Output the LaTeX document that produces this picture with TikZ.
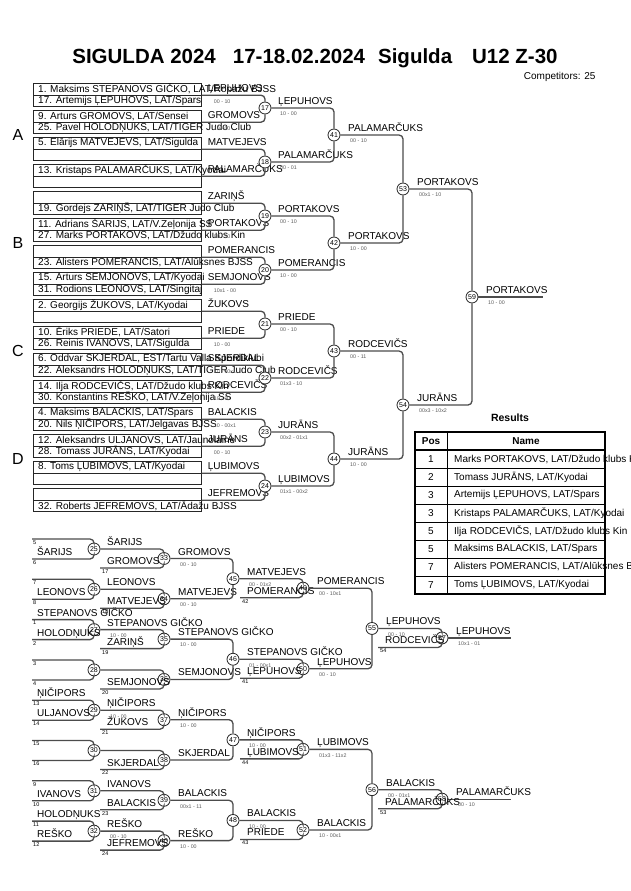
\documentclass[tikz,border=0pt]{standalone}
\usepackage{fontspec}
\setmainfont{Liberation Sans}
\usetikzlibrary{calc}

\tikzset{
  entrybox/.style={draw=black!85, line width=0.7pt, minimum width=168pt, minimum height=11.5pt, inner sep=0pt, anchor=north west},
  entrytext/.style={font=\fontsize{10}{10}\selectfont, anchor=west, inner sep=0pt},
  link/.style={draw=black!70, line width=1.3pt, rounded corners=4pt},
  bout/.style={circle, draw=black!85, fill=white, line width=0.8pt, minimum size=12pt, inner sep=0pt, font=\fontsize{7}{7}\selectfont},
  winner/.style={font=\fontsize{10}{10}\selectfont, anchor=base west, inner sep=0pt},
  result/.style={font=\fontsize{5.3}{6}\selectfont, text=black!65, anchor=west, inner sep=0pt},
  seed/.style={font=\fontsize{5.5}{6}\selectfont, anchor=west, inner sep=0pt},
  pool/.style={font=\fontsize{16}{16}\selectfont},
  tabhead/.style={font=\bfseries\fontsize{10}{10}\selectfont},
  tabcell/.style={font=\fontsize{10}{10}\selectfont},
}

\begin{document}
\begin{tikzpicture}[x=1pt,y=-1pt]
\useasboundingbox (0,0) rectangle (630,891);

% heading
\node[font=\bfseries\fontsize{20.5}{22}\selectfont] (title) at (315,58)
  {SIGULDA 2024\hspace{17pt}17-18.02.2024\hspace{13pt}Sigulda\hspace{20pt}U12 Z-30};
\node[font=\fontsize{10}{10}\selectfont, anchor=east] (ncomp) at (599,77) {Competitors: 25};

% pools
\foreach \g/\l in {0/A,1/B,2/C,3/D}
  \node[pool] (pool\l) at (18,135+108*\g) {\l};

% first round
\foreach \pr/\ta/\tb/\win/\res in {
  0/{1. Maksims STEPANOVS GIČKO, LAT/Ropažu BJSS}/{17. Artemijs ĻEPUHOVS, LAT/Spars}/ĻEPUHOVS/{00 - 10},
  1/{9. Arturs GROMOVS, LAT/Sensei}/{25. Pavel HOLODŅUKS, LAT/TIGER Judo Club}/GROMOVS/{10 - 00},
  2/{5. Elārijs MATVEJEVS, LAT/Sigulda}/{}/MATVEJEVS/{},
  3/{13. Kristaps PALAMARČUKS, LAT/Kyodai}/{}/PALAMARČUKS/{},
  4/{}/{19. Gordejs ZARIŅŠ, LAT/TIGER Judo Club}/ZARIŅŠ/{},
  5/{11. Adrians ŠARIJS, LAT/V.Zeļonija SS}/{27. Marks PORTAKOVS, LAT/Džudo klubs Kin}/PORTAKOVS/{00 - 10},
  6/{}/{23. Alisters POMERANCIS, LAT/Alūksnes BJSS}/POMERANCIS/{},
  7/{15. Arturs SEMJONOVS, LAT/Kyodai}/{31. Rodions LEONOVS, LAT/Singitaj}/SEMJONOVS/{10x1 - 00},
  8/{2. Georgijs ŽUKOVS, LAT/Kyodai}/{}/ŽUKOVS/{},
  9/{10. Ēriks PRIEDE, LAT/Satori}/{26. Reinis IVANOVS, LAT/Sigulda}/PRIEDE/{10 - 00},
  10/{6. Oddvar SKJERDAL, EST/Tartu Valla Spordiklubi}/{22. Aleksandrs HOLODŅUKS, LAT/TIGER Judo Club}/SKJERDAL/{10 - 00x1},
  11/{14. Ilja RODCEVIČS, LAT/Džudo klubs Kin}/{30. Konstantins REŠKO, LAT/V.Zeļonija SS}/RODCEVIČS/{10 - 00},
  12/{4. Maksims BALACKIS, LAT/Spars}/{20. Nils ŅIČIPORS, LAT/Jelgavas BJSS}/BALACKIS/{10 - 00x1},
  13/{12. Aleksandrs ULJANOVS, LAT/Jaunolaine}/{28. Tomass JURĀNS, LAT/Kyodai}/JURĀNS/{00 - 10},
  14/{8. Toms ĻUBIMOVS, LAT/Kyodai}/{}/ĻUBIMOVS/{},
  15/{}/{32. Roberts JEFREMOVS, LAT/Ādažu BJSS}/JEFREMOVS/{}}{
  \node[entrybox] (ea\pr) at (33,83+27*\pr) {};
  \node[entrybox] (eb\pr) at (33,94.5+27*\pr) {};
  \node[entrytext] (ta\pr) at ([xshift=5pt]ea\pr.west) {\ta};
  \node[entrytext] (tb\pr) at ([xshift=5pt]eb\pr.west) {\tb};
  \coordinate (p\pr) at (ea\pr.south east);
  \node[winner] (wp\pr) at ([xshift=6pt,yshift=3.5pt]p\pr) {\win};
  \node[result] (sp\pr) at ([xshift=12pt,yshift=-6pt]p\pr) {\res};
}

% second round
\foreach \j/\mt/\win/\res in {0/17/ĻEPUHOVS/{10 - 00}, 1/18/PALAMARČUKS/{00 - 01},
    2/19/PORTAKOVS/{00 - 10}, 3/20/POMERANCIS/{10 - 00}, 4/21/PRIEDE/{00 - 10},
    5/22/RODCEVIČS/{01x3 - 10}, 6/23/JURĀNS/{00x2 - 01x1}, 7/24/ĻUBIMOVS/{01x1 - 00x2}}{
  \pgfmathtruncatemacro\ua{2*\j}
  \pgfmathtruncatemacro\ub{2*\j+1}
  \node[bout] (m\mt) at (265,108+54*\j) {\mt};
  \draw[link] (p\ua) -| (m\mt) |- (p\ub);
  \node[winner] (w\mt) at ([xshift=13pt,yshift=3.5pt]m\mt.center) {\win};
  \node[result] (s\mt) at ([xshift=15pt,yshift=-6pt]m\mt.center) {\res};
}

% quarter finals, semi finals, final
\foreach \xx/\yy/\mt/\ua/\ub/\win/\res in {
    334/135/41/17/18/PALAMARČUKS/{00 - 10}, 334/243/42/19/20/PORTAKOVS/{10 - 00},
    334/351/43/21/22/RODCEVIČS/{00 - 11}, 334/459/44/23/24/JURĀNS/{10 - 00},
    403/189/53/41/42/PORTAKOVS/{00x1 - 10}, 403/405/54/43/44/JURĀNS/{00x3 - 10x2},
    472/297/59/53/54/PORTAKOVS/{10 - 00}}{
  \node[bout] (m\mt) at (\xx,\yy) {\mt};
  \draw[link] (m\ua) -| (m\mt) |- (m\ub);
  \node[winner] (w\mt) at ([xshift=14pt,yshift=3.5pt]m\mt.center) {\win};
  \node[result] (s\mt) at ([xshift=16pt,yshift=-6pt]m\mt.center) {\res};
}
\coordinate (end59) at (543,297);
\draw[link] (m59) -- (end59);

% results
\node[font=\bfseries\fontsize{10.5}{11}\selectfont] (restitle) at (510,418) {Results};
\foreach \row in {1,...,7}
  \draw[line width=0.8pt] (415,450+18*\row) -- (605,450+18*\row);
\draw[line width=1.4pt] (415,450) -- (605,450);
\draw[line width=0.8pt] (447,432) -- (447,594);
\draw[line width=2pt] (415,432) rectangle (605,594);
\node[tabhead] (hpos) at (431,441) {Pos};
\node[tabhead] (hname) at (526,441) {Name};
\foreach \row/\rank/\who in {0/1/{Marks PORTAKOVS, LAT/Džudo klubs Kin}, 1/2/{Tomass JURĀNS, LAT/Kyodai},
    2/3/{Artemijs ĻEPUHOVS, LAT/Spars}, 3/3/{Kristaps PALAMARČUKS, LAT/Kyodai},
    4/5/{Ilja RODCEVIČS, LAT/Džudo klubs Kin}, 5/5/{Maksims BALACKIS, LAT/Spars},
    6/7/{Alisters POMERANCIS, LAT/Alūksnes BJSS}, 7/7/{Toms ĻUBIMOVS, LAT/Kyodai}}{
  \node[tabcell] (rank\row) at (431,459+18*\row) {\rank};
  \node[tabcell, anchor=west, inner sep=0pt] (who\row) at (454,459+18*\row) {\who};
}

% repechage, first column
\foreach \q/\mt/\ta/\sa/\tb/\sb/\win/\res in {
    0/25/{}/5/ŠARIJS/6/ŠARIJS/{}, 1/26/{}/7/LEONOVS/8/LEONOVS/{},
    2/27/{STEPANOVS GIČKO}/1/HOLODŅUKS/2/{STEPANOVS GIČKO}/{10 - 00}, 3/28/{}/3/{}/4/{}/{},
    4/29/ŅIČIPORS/13/ULJANOVS/14/ŅIČIPORS/{10 - 00}, 5/30/{}/15/{}/16/{}/{},
    6/31/{}/9/IVANOVS/10/IVANOVS/{}, 7/32/HOLODŅUKS/11/REŠKO/12/REŠKO/{00 - 10}}{
  \pgfmathsetmacro\yy{549+40.3*\q}
  \coordinate (ra\mt) at (32,\yy-10);
  \coordinate (rb\mt) at (32,\yy+10);
  \node[bout] (m\mt) at (94,\yy) {\mt};
  \draw[link] (ra\mt) -| (m\mt) |- (rb\mt);
  \node[winner] (la\mt) at ([xshift=5pt,yshift=3.5pt]ra\mt) {\ta};
  \node[seed] (na\mt) at ([xshift=1pt,yshift=-3.5pt]ra\mt) {\sa};
  \node[winner] (lb\mt) at ([xshift=5pt,yshift=3.5pt]rb\mt) {\tb};
  \node[seed] (nb\mt) at ([xshift=1pt,yshift=-3.5pt]rb\mt) {\sb};
  \node[winner] (w\mt) at ([xshift=13pt,yshift=3.5pt]m\mt.center) {\win};
  \node[result] (s\mt) at ([xshift=16pt,yshift=-6pt]m\mt.center) {\res};
}

% repechage, second column
\foreach \q/\mt/\src/\tb/\sb/\win/\res in {
    0/33/25/GROMOVS/17/GROMOVS/{00 - 10}, 1/34/26/MATVEJEVS/18/MATVEJEVS/{00 - 10},
    2/35/27/ZARIŅŠ/19/{STEPANOVS GIČKO}/{10 - 00}, 3/36/28/SEMJONOVS/20/SEMJONOVS/{},
    4/37/29/ŽUKOVS/21/ŅIČIPORS/{10 - 00}, 5/38/30/SKJERDAL/22/SKJERDAL/{},
    6/39/31/BALACKIS/23/BALACKIS/{00x1 - 11}, 7/40/32/JEFREMOVS/24/REŠKO/{10 - 00}}{
  \pgfmathsetmacro\yy{549+40.3*\q}
  \node[bout] (m\mt) at (164,\yy+9.5) {\mt};
  \coordinate (rb\mt) at (100,\yy+19);
  \draw[link] (m\src) -| (m\mt) |- (rb\mt);
  \node[winner] (lb\mt) at ([xshift=7pt,yshift=3.5pt]rb\mt) {\tb};
  \node[seed] (nb\mt) at ([xshift=2pt,yshift=-3.5pt]rb\mt) {\sb};
  \node[winner] (w\mt) at ([xshift=14pt,yshift=3.5pt]m\mt.center) {\win};
  \node[result] (s\mt) at ([xshift=16pt,yshift=-6pt]m\mt.center) {\res};
}

% repechage, third column
\foreach \j/\mt/\ua/\ub/\win/\res in {0/45/33/34/MATVEJEVS/{00 - 01x2},
    1/46/35/36/{STEPANOVS GIČKO}/{01 - 00x1}, 2/47/37/38/ŅIČIPORS/{10 - 00}, 3/48/39/40/BALACKIS/{10 - 00}}{
  \node[bout] (m\mt) at (233,578.65+80.6*\j) {\mt};
  \draw[link] (m\ua) -| (m\mt) |- (m\ub);
  \node[winner] (w\mt) at ([xshift=14pt,yshift=3.5pt]m\mt.center) {\win};
  \node[result] (s\mt) at ([xshift=16pt,yshift=-6pt]m\mt.center) {\res};
}

% repechage, fourth column
\foreach \j/\mt/\src/\tb/\sb/\win/\res in {0/49/45/POMERANCIS/42/POMERANCIS/{00 - 10x1},
    1/50/46/ĻEPUHOVS/41/ĻEPUHOVS/{00 - 10}, 2/51/47/ĻUBIMOVS/44/ĻUBIMOVS/{01x3 - 11x2},
    3/52/48/PRIEDE/43/BALACKIS/{10 - 00x1}}{
  \node[bout] (m\mt) at (303,588.15+80.6*\j) {\mt};
  \coordinate (rb\mt) at (240,597.65+80.6*\j);
  \draw[link] (m\src) -| (m\mt) |- (rb\mt);
  \node[winner] (lb\mt) at ([xshift=7pt,yshift=3.5pt]rb\mt) {\tb};
  \node[seed] (nb\mt) at ([xshift=2pt,yshift=-3.5pt]rb\mt) {\sb};
  \node[winner] (w\mt) at ([xshift=14pt,yshift=3.5pt]m\mt.center) {\win};
  \node[result] (s\mt) at ([xshift=16pt,yshift=-6pt]m\mt.center) {\res};
}

% repechage, fifth column
\foreach \yy/\mt/\ua/\ub/\win/\res in {628.45/55/49/50/ĻEPUHOVS/{00 - 10}, 789.65/56/51/52/BALACKIS/{00 - 01x1}}{
  \node[bout] (m\mt) at (372,\yy) {\mt};
  \draw[link] (m\ua) -| (m\mt) |- (m\ub);
  \node[winner] (w\mt) at ([xshift=14pt,yshift=3.5pt]m\mt.center) {\win};
  \node[result] (s\mt) at ([xshift=16pt,yshift=-6pt]m\mt.center) {\res};
}

% bronze bouts
\foreach \yy/\mt/\src/\tb/\sb/\win/\res in {628.45/57/55/RODCEVIČS/54/ĻEPUHOVS/{10x1 - 01},
    789.65/58/56/PALAMARČUKS/53/PALAMARČUKS/{00 - 10}}{
  \node[bout] (m\mt) at (442,\yy+9.5) {\mt};
  \coordinate (rb\mt) at (378,\yy+19);
  \coordinate (end\mt) at (511,\yy+9.5);
  \draw[link] (m\src) -| (m\mt) |- (rb\mt);
  \draw[link] (m\mt) -- (end\mt);
  \node[winner] (lb\mt) at ([xshift=7pt,yshift=3.5pt]rb\mt) {\tb};
  \node[seed] (nb\mt) at ([xshift=2pt,yshift=-3.5pt]rb\mt) {\sb};
  \node[winner] (w\mt) at ([xshift=14pt,yshift=3.5pt]m\mt.center) {\win};
  \node[result] (s\mt) at ([xshift=16pt,yshift=-6pt]m\mt.center) {\res};
}
\end{tikzpicture}
\end{document}
